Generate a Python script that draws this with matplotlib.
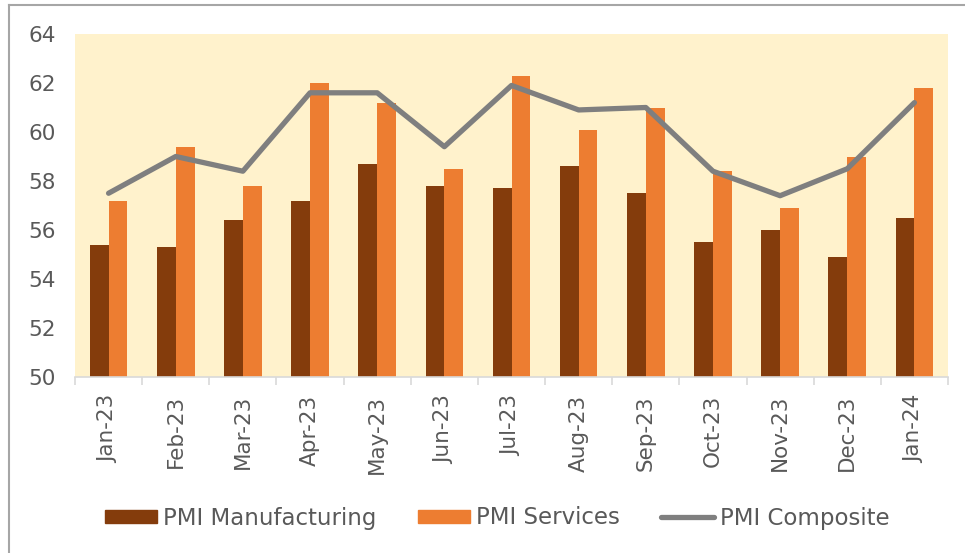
import numpy as np
import matplotlib
matplotlib.use('Agg')
import matplotlib.pyplot as plt
from matplotlib.lines import Line2D
from matplotlib.patches import Patch

plt.rcParams['font.family'] = ['DejaVu Sans']

months = ['Jan-23', 'Feb-23', 'Mar-23', 'Apr-23', 'May-23', 'Jun-23', 'Jul-23',
          'Aug-23', 'Sep-23', 'Oct-23', 'Nov-23', 'Dec-23', 'Jan-24']
pmi_mfg = [55.4, 55.3, 56.4, 57.2, 58.7, 57.8, 57.7, 58.6, 57.5, 55.5, 56.0, 54.9, 56.5]
pmi_serv = [57.2, 59.4, 57.8, 62.0, 61.2, 58.5, 62.3, 60.1, 61.0, 58.4, 56.9, 59.0, 61.8]
pmi_comp = [57.5, 59.0, 58.4, 61.6, 61.6, 59.4, 61.9, 60.9, 61.0, 58.4, 57.4, 58.5, 61.2]

c_mfg = '#843C0C'
c_serv = '#ED7D31'
c_comp = '#7F7F7F'
txt = '#595959'

W, H = 965, 553
fig = plt.figure(figsize=(W / 100, H / 100), dpi=100)
ax = fig.add_axes([75 / W, 1 - 377 / H, 873 / W, 343 / H])
ax.set_facecolor('#FFF2CC')

x = np.arange(len(months))
bw = 0.28
ax.bar(x - bw / 2, np.array(pmi_mfg) - 50, bw, bottom=50, color=c_mfg, zorder=2)
ax.bar(x + bw / 2, np.array(pmi_serv) - 50, bw, bottom=50, color=c_serv, zorder=2)
ax.plot(x, pmi_comp, color=c_comp, lw=3.8, solid_capstyle='round', zorder=3)

ax.set_xlim(-0.5, len(months) - 0.5)
ax.set_ylim(50, 64)
ax.set_yticks(range(50, 65, 2))
ax.set_xticks(x)
ax.set_xticklabels(months, rotation=90, fontsize=15.5, color=txt)
ax.tick_params(axis='y', length=0, labelsize=15.5, labelcolor=txt, pad=14)
ax.tick_params(axis='x', length=0, pad=13)
ax.set_xticks(np.arange(-0.5, len(months)), minor=True)
ax.tick_params(axis='x', which='minor', length=6, color='#D9D9D9', width=1.2)

for s in ['top', 'right', 'left']:
    ax.spines[s].set_visible(False)
ax.spines['bottom'].set_color('#D9D9D9')
ax.spines['bottom'].set_linewidth(1.2)

# outer frame (top and left edges visible)
fig.add_artist(Line2D([9 / W, 1], [1 - 5 / H, 1 - 5 / H], color='#A6A6A6', lw=1.5))
fig.add_artist(Line2D([9 / W, 9 / W], [0, 1 - 5 / H], color='#A6A6A6', lw=1.5))

handles = [Patch(color=c_mfg), Patch(color=c_serv),
           Line2D([], [], color=c_comp, lw=3.8, solid_capstyle='round')]
labels = ['PMI Manufacturing', 'PMI Services', 'PMI Composite']
leg = fig.legend(handles, labels, loc='center', bbox_to_anchor=(497 / W, 1 - 518 / H),
                 ncol=3, frameon=False, fontsize=16.5, handlelength=2.3,
                 handleheight=0.5, handletextpad=0.25, columnspacing=1.8)
for t in leg.get_texts():
    t.set_color(txt)

fig.savefig('out.png', dpi=100)
